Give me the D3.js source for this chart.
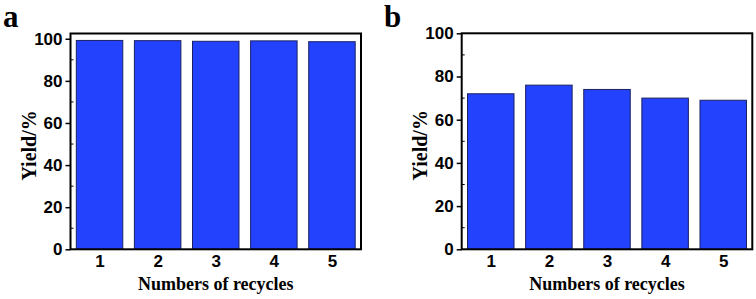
<!DOCTYPE html>
<html>
<head>
<meta charset="utf-8">
<script src="https://cdn.jsdelivr.net/npm/d3@7"></script>
<style>
  body { margin: 0; background: #fff; }
  svg { display: block; }
</style>
</head>
<body>
<div id="chart"></div>
<script>
// data
var cycles = [1, 2, 3, 4, 5];
var yieldA = [99.2, 99.1, 98.8, 99.0, 98.6];
var yieldB = [72, 76, 74, 70, 69];
var yTicks = [0, 20, 40, 60, 80, 100];
var yMinor = [10, 30, 50, 70, 90];

var svg = d3.select("#chart").append("svg")
    .attr("width", 756)
    .attr("height", 299);

function drawPanel(label, values, box, yMax) {
    var xScale = d3.scaleLinear().domain([0.5, 5.5]).range([box.left, box.right]);
    var yScale = d3.scaleLinear().domain([0, yMax]).range([box.bottom, box.top]);
    var unit = xScale(1) - xScale(0);

    var g = svg.append("g");

    // bars
    g.selectAll("rect.bar")
        .data(values)
        .enter().append("rect")
        .attr("class", "bar")
        .attr("x", function(d, i) { return xScale(cycles[i]) - unit * 0.4 })
        .attr("width", unit * 0.8)
        .attr("y", function(d) { return yScale(d) })
        .attr("height", function(d) { return yScale(0) - yScale(d) })
        .attr("fill", "#2342fd")
        .attr("stroke", "#1b2160")
        .attr("stroke-width", 1);

    // y axis, major ticks outside
    var yAxis = g.append("g")
        .attr("transform", "translate(" + box.left + ",0)")
        .call(d3.axisLeft(yScale).tickValues(yTicks).tickSize(5).tickPadding(3));
    yAxis.select(".domain").remove();
    yAxis.selectAll("line").attr("stroke", "#000").attr("stroke-width", 1.5);
    yAxis.selectAll("text")
        .attr("font-family", "Liberation Sans, Arial, sans-serif")
        .attr("font-weight", "bold")
        .attr("font-size", "17px")
        .attr("fill", "#000");

    // minor ticks inside
    g.selectAll("line.minor")
        .data(yMinor)
        .enter().append("line")
        .attr("x1", box.left)
        .attr("x2", box.left + 3)
        .attr("y1", function(d) { return yScale(d) })
        .attr("y2", function(d) { return yScale(d) })
        .attr("stroke", "#000")
        .attr("stroke-width", 1);

    // x axis labels
    var xAxis = g.append("g")
        .attr("transform", "translate(0," + box.bottom + ")")
        .call(d3.axisBottom(xScale).tickValues(cycles).tickFormat(d3.format("d")).tickSize(0).tickPadding(6));
    xAxis.select(".domain").remove();
    xAxis.selectAll("text")
        .attr("font-family", "Liberation Sans, Arial, sans-serif")
        .attr("font-weight", "bold")
        .attr("font-size", "17px")
        .attr("fill", "#000");

    // frame
    g.append("rect")
        .attr("x", box.left)
        .attr("y", box.top)
        .attr("width", box.right - box.left)
        .attr("height", box.bottom - box.top)
        .attr("fill", "none")
        .attr("stroke", "#000")
        .attr("stroke-width", 2);

    // axis titles
    g.append("text")
        .attr("x", (box.left + box.right) / 2)
        .attr("y", 290)
        .attr("text-anchor", "middle")
        .attr("font-family", "Liberation Serif, Times New Roman, serif")
        .attr("font-weight", "bold")
        .attr("font-size", "18px")
        .text("Numbers of recycles");

    g.append("text")
        .attr("transform", "translate(" + (box.left - 35) + "," + ((box.top + box.bottom) / 2 + 4) + ") rotate(-90)")
        .attr("text-anchor", "middle")
        .attr("font-family", "Liberation Serif, Times New Roman, serif")
        .attr("font-weight", "bold")
        .attr("font-size", "20px")
        .text("Yield/%");

    // panel letter
    svg.append("text")
        .attr("x", box.letterX)
        .attr("y", box.letterY)
        .attr("font-family", "Liberation Serif, Times New Roman, serif")
        .attr("font-weight", "bold")
        .attr("font-size", "31px")
        .text(label);
}

drawPanel("a", yieldA, {left: 70.5, right: 361, top: 33.5, bottom: 249.3, letterX: 3, letterY: 27}, 102.5);
drawPanel("b", yieldB, {left: 461.7, right: 752.3, top: 33.3, bottom: 249.3, letterX: 384, letterY: 27}, 100);
</script>
</body>
</html>
